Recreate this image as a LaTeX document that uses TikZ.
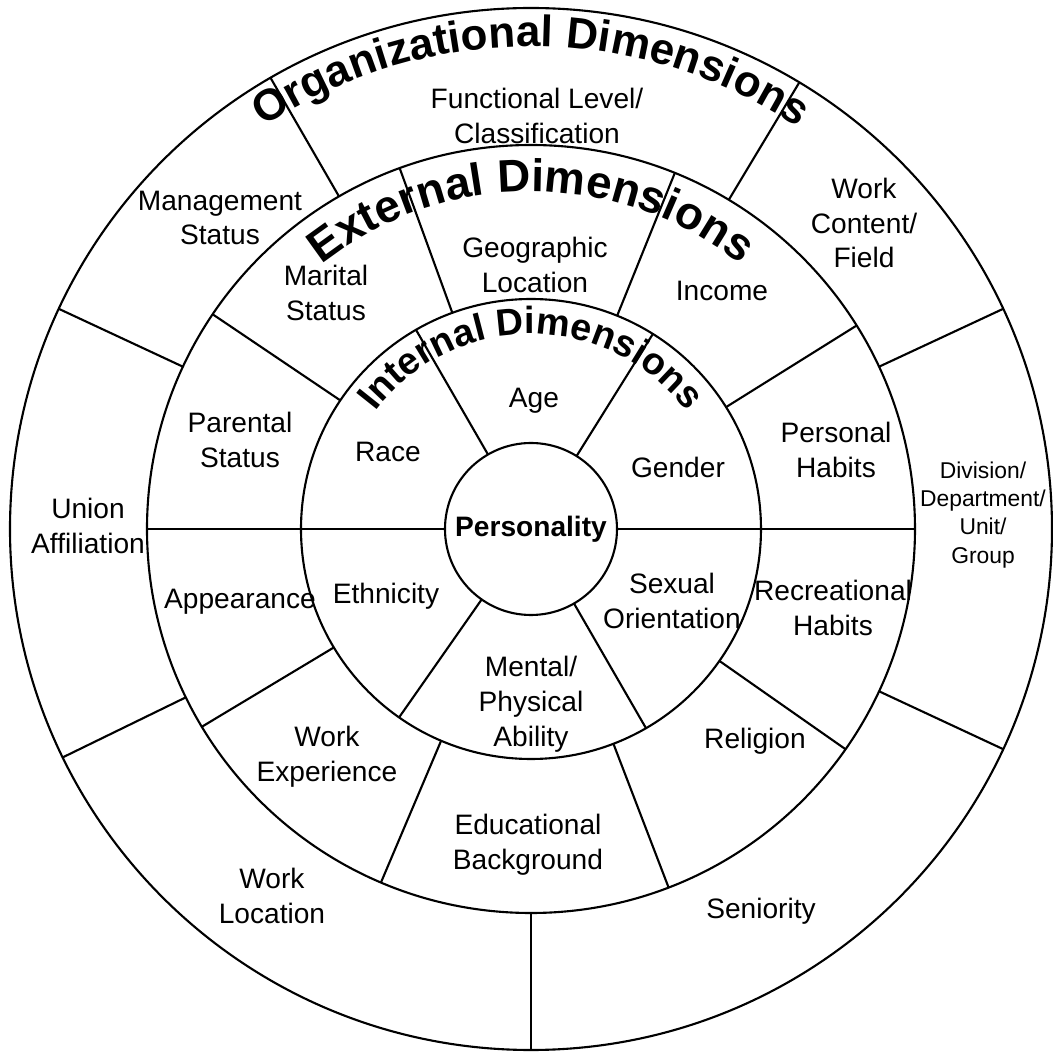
\documentclass[tikz,border=0pt]{standalone}
\usepackage{fontspec}
\setmainfont{Liberation Sans}
\usetikzlibrary{decorations.text}
\newcommand{\orgfont}{\fontsize{25}{30}\selectfont\bfseries}
\newcommand{\extfont}{\fontsize{26}{31}\selectfont\bfseries}
\newcommand{\intfont}{\fontsize{21.5}{26}\selectfont\bfseries}

\begin{document}
\begin{tikzpicture}[
    ring/.style={draw, circle, line width=1.2pt, inner sep=0pt, outer sep=0pt},
    spoke/.style={line width=1.2pt},
    lbl/.style={align=center, inner sep=0pt, font=\fontsize{16}{19.8}\selectfont},
    smalllbl/.style={align=center, inner sep=0pt, font=\fontsize{13}{16}\selectfont}
  ]
    \useasboundingbox (-10.62,-10.46) rectangle (10.44,10.58);

    \node[ring, minimum size=20.84cm] (org) at (0,0) {};
    \node[ring, minimum size=15.36cm] (ext) at (0,0) {};
    \node[ring, minimum size=9.2cm]   (int) at (0,0) {};
    \node[ring, minimum size=3.44cm, font=\fontsize{16}{19}\selectfont\bfseries] (core) at (0,0) {Personality};

    \draw[spoke] (core.0)   -- (ext.0);
    \draw[spoke] (core.180) -- (ext.180);
    \draw[spoke] (core.58)  -- (int.58);
    \draw[spoke] (core.120) -- (int.120);
    \draw[spoke] (core.235) -- (int.235);
    \draw[spoke] (core.300) -- (int.300);

    \draw[spoke] (int.32)  -- (ext.32);
    \draw[spoke] (int.68)  -- (ext.68);
    \draw[spoke] (int.110) -- (ext.110);
    \draw[spoke] (int.146) -- (ext.146);
    \draw[spoke] (int.211) -- (ext.211);
    \draw[spoke] (int.247) -- (ext.247);
    \draw[spoke] (int.291) -- (ext.291);
    \draw[spoke] (int.325) -- (ext.325);

    \draw[spoke] (ext.25)  -- (org.25);
    \draw[spoke] (ext.59)  -- (org.59);
    \draw[spoke] (ext.120) -- (org.120);
    \draw[spoke] (ext.155) -- (org.155);
    \draw[spoke] (ext.206) -- (org.206);
    \draw[spoke] (ext.270) -- (org.270);
    \draw[spoke] (ext.335) -- (org.335);

    \path[decorate, decoration={text along path, text align=center,
        text={|\orgfont|Organizational Dimensions}}]
      (150:9.65) arc[start angle=150, end angle=30, radius=9.65];
    \path[decorate, decoration={text along path, text align=center,
        text={|\extfont|External Dimensions}}]
      (160:6.75) arc[start angle=160, end angle=20, radius=6.75];
    \path[decorate, decoration={text along path, text align=center,
        text={|\intfont|Internal Dimensions}}]
      (170:3.9) arc[start angle=170, end angle=10, radius=3.9];

    \node[lbl] (func)    at (0.12,8.26)   {Functional Level/\\Classification};
    \node[lbl] (mgmt)    at (-6.22,6.22)  {Management\\Status};
    \node[lbl] (content) at (6.66,6.12)   {Work\\Content/\\Field};
    \node[lbl] (union)   at (-8.86,0.06)  {Union\\Affiliation};
    \node[smalllbl] (division) at (9.04,0.28) {Division/\\Department/\\Unit/\\Group};
    \node[lbl] (workloc) at (-5.18,-7.34) {Work\\Location};
    \node[lbl] (senior)  at (4.6,-7.64)   {Seniority};

    \node[lbl] (marital)  at (-4.1,4.72)   {Marital\\Status};
    \node[lbl] (geo)      at (0.08,5.28)   {Geographic\\Location};
    \node[lbl] (income)   at (3.82,4.76)   {Income};
    \node[lbl] (parental) at (-5.82,1.78)  {Parental\\Status};
    \node[lbl] (personal) at (6.1,1.58)    {Personal\\Habits};
    \node[lbl] (appear)   at (-5.82,-1.46) {Appearance};
    \node[lbl] (recreat)  at (6.04,-1.58)  {Recreational\\Habits};
    \node[lbl] (workexp)  at (-4.08,-4.56) {Work\\Experience};
    \node[lbl] (edu)      at (-0.06,-6.32) {Educational\\Background};
    \node[lbl] (religion) at (4.48,-4.24)  {Religion};

    \node[lbl] (age)    at (0.06,2.56)   {Age};
    \node[lbl] (race)   at (-2.86,1.54)  {Race};
    \node[lbl] (gender) at (2.94,1.24)   {Gender};
    \node[lbl] (ethnic) at (-2.9,-1.34)  {Ethnicity};
    \node[lbl] (sexual) at (2.82,-1.44)  {Sexual\\Orientation};
    \node[lbl] (mental) at (0,-3.5)      {Mental/\\Physical\\Ability};
\end{tikzpicture}
\end{document}
